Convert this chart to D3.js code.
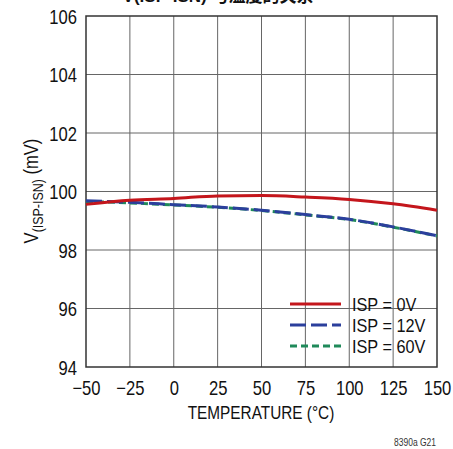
<!DOCTYPE html>
<html><head><meta charset="utf-8">
<script src="https://cdn.jsdelivr.net/npm/d3@7"></script>
<style>
body{margin:0;background:#fff;}
text{font-family:"Liberation Sans",Arial,sans-serif;}
</style></head>
<body><svg id="c" width="453" height="449"></svg>
<script>
const temps = [-50, -25, 0, 25, 50, 75, 100, 125, 150];
const isp0V  = [99.56, 99.70, 99.76, 99.85, 99.86, 99.81, 99.73, 99.58, 99.36];
const isp12V = [99.68, 99.63, 99.55, 99.47, 99.36, 99.21, 99.05, 98.79, 98.49];
const isp60V = [99.66, 99.61, 99.54, 99.46, 99.35, 99.20, 99.04, 98.78, 98.48];
const xTicks = [-50, -25, 0, 25, 50, 75, 100, 125, 150];
const yTicks = [94, 96, 98, 100, 102, 104, 106];
const seriesNames = ["ISP = 0V", "ISP = 12V", "ISP = 60V"];
const seriesColors = ["#c4161c", "#2b3f9c", "#1f8a5a"];
const seriesDash = [null, "16,5", "7,4"];

const SX = 0.83;
const svg = d3.select("#c");
const L = 86, R = 437, T = 16, B = 367;
const x = d3.scaleLinear().domain([-50,150]).range([L,R]);
const y = d3.scaleLinear().domain([94,106]).range([B,T]);

// partially cut title (cut off in the reference too)
svg.append("text").attr("x",218).attr("y",2).attr("text-anchor","middle")
  .attr("font-size",17).attr("font-weight","bold").attr("fill","#111")
  .style("font-family","'Liberation Sans','Noto Sans CJK SC',sans-serif")
  .text("V(ISP-ISN) 与温度的关系");

// grid
svg.append("g").selectAll("line").data(xTicks.slice(1,-1)).join("line")
  .attr("x1",d=>x(d)).attr("x2",d=>x(d)).attr("y1",T).attr("y2",B)
  .attr("stroke","#666").attr("stroke-width",1);
svg.append("g").selectAll("line").data(yTicks.slice(1,-1)).join("line")
  .attr("y1",d=>y(d)).attr("y2",d=>y(d)).attr("x1",L).attr("x2",R)
  .attr("stroke","#666").attr("stroke-width",1);

// axes
const xa = svg.append("g").attr("transform",`translate(0,${B})`)
  .call(d3.axisBottom(x).tickValues(xTicks).tickSize(0).tickFormat(d=>d<0?"\u2212"+(-d):d));
xa.select(".domain").remove();
xa.selectAll("text").attr("font-size",20).attr("fill","#111")
  .attr("x",0).attr("y",0).attr("dy",null)
  .attr("transform",`translate(0,28) scale(${SX},1)`);
const ya = svg.append("g").attr("transform",`translate(${L},0)`)
  .call(d3.axisLeft(y).tickValues(yTicks).tickSize(0));
ya.select(".domain").remove();
ya.selectAll("text").attr("font-size",20).attr("fill","#111")
  .attr("x",0).attr("dy","0.36em")
  .attr("transform",`translate(-9,0) scale(${SX},1)`);

// frame
svg.append("rect").attr("x",L).attr("y",T).attr("width",R-L).attr("height",B-T)
  .attr("fill","none").attr("stroke","#333").attr("stroke-width",1.5);

// lines
const line = d3.line().x((d,i)=>x(temps[i])).y(d=>y(d)).curve(d3.curveMonotoneX);
const data = [isp0V, isp12V, isp60V];
[2,1,0].forEach(k=>{
  svg.append("path").datum(data[k]).attr("d",line).attr("fill","none")
    .attr("stroke",seriesColors[k]).attr("stroke-width",3)
    .attr("stroke-dasharray",seriesDash[k]);
});

// legend
const lg = svg.append("g");
seriesNames.forEach((n,i)=>{
  const yy = 304 + i*21;
  lg.append("line").attr("x1",290).attr("x2",341).attr("y1",yy).attr("y2",yy)
    .attr("stroke",seriesColors[i]).attr("stroke-width",3).attr("stroke-dasharray",seriesDash[i]);
  lg.append("text").attr("transform",`translate(352,${yy+7}) scale(${SX+0.05},1)`)
    .attr("font-size",18.5).attr("fill","#111").text(n);
});

// axis titles
svg.append("text").attr("transform",`translate(261,419) scale(${SX},1)`).attr("text-anchor","middle")
  .attr("font-size",18.5).attr("fill","#111").text("TEMPERATURE (°C)");
const yt = svg.append("text").attr("transform",`translate(38,191) rotate(-90) scale(${SX},1)`)
  .attr("text-anchor","middle").attr("font-size",20).attr("fill","#111");
yt.append("tspan").text("V");
yt.append("tspan").attr("font-size",15).attr("dy",5).text("(ISP-ISN)");
yt.append("tspan").attr("dy",-5).text(" (mV)");

svg.append("text").attr("transform",`translate(436,446) scale(0.85,1)`).attr("text-anchor","end")
  .attr("font-size",10).attr("fill","#333").text("8390a G21");
</script></body></html>
